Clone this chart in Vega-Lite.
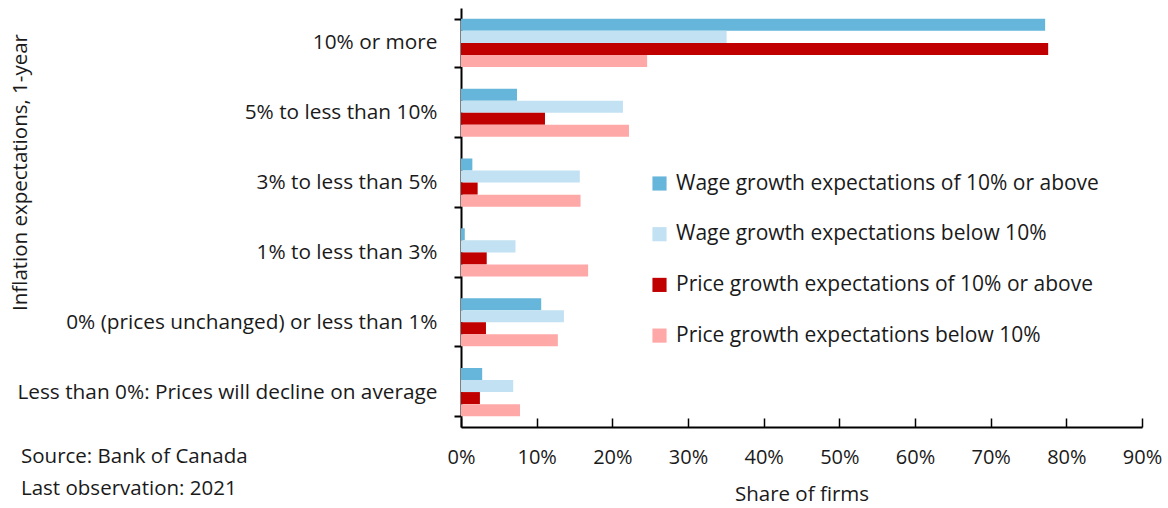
{
  "$schema": "https://vega.github.io/schema/vega-lite/v6.json",
  "width": 681,
  "height": 419,
  "autosize": {"type": "none"},
  "padding": {"left": 461, "top": 8, "right": 26, "bottom": 81},
  "background": "white",
  "config": {
    "font": "Open Sans",
    "view": {"stroke": null},
    "axis": {"labelFont": "Open Sans", "titleFont": "Open Sans", "labelColor": "#1a1a1a", "titleColor": "#1a1a1a", "titleFontWeight": "normal"}
  },
  "title": {
    "text": ["Source: Bank of Canada", "Last observation: 2021"],
    "orient": "bottom",
    "anchor": "start",
    "frame": "bounds",
    "font": "Open Sans",
    "fontSize": 20.5,
    "fontWeight": "normal",
    "color": "#1a1a1a",
    "lineHeight": 32,
    "dx": 11,
    "dy": -62
  },
  "data": {
    "values": [
      {"cat": "10% or more", "series": "Wage growth expectations of 10% or above", "v": 77.2},
      {"cat": "10% or more", "series": "Wage growth expectations below 10%", "v": 35.1},
      {"cat": "10% or more", "series": "Price growth expectations of 10% or above", "v": 77.6},
      {"cat": "10% or more", "series": "Price growth expectations below 10%", "v": 24.6},
      {"cat": "5% to less than 10%", "series": "Wage growth expectations of 10% or above", "v": 7.4},
      {"cat": "5% to less than 10%", "series": "Wage growth expectations below 10%", "v": 21.4},
      {"cat": "5% to less than 10%", "series": "Price growth expectations of 10% or above", "v": 11.1},
      {"cat": "5% to less than 10%", "series": "Price growth expectations below 10%", "v": 22.2},
      {"cat": "3% to less than 5%", "series": "Wage growth expectations of 10% or above", "v": 1.5},
      {"cat": "3% to less than 5%", "series": "Wage growth expectations below 10%", "v": 15.7},
      {"cat": "3% to less than 5%", "series": "Price growth expectations of 10% or above", "v": 2.2},
      {"cat": "3% to less than 5%", "series": "Price growth expectations below 10%", "v": 15.8},
      {"cat": "1% to less than 3%", "series": "Wage growth expectations of 10% or above", "v": 0.5},
      {"cat": "1% to less than 3%", "series": "Wage growth expectations below 10%", "v": 7.2},
      {"cat": "1% to less than 3%", "series": "Price growth expectations of 10% or above", "v": 3.4},
      {"cat": "1% to less than 3%", "series": "Price growth expectations below 10%", "v": 16.8},
      {"cat": "0% (prices unchanged) or less than 1%", "series": "Wage growth expectations of 10% or above", "v": 10.6},
      {"cat": "0% (prices unchanged) or less than 1%", "series": "Wage growth expectations below 10%", "v": 13.6},
      {"cat": "0% (prices unchanged) or less than 1%", "series": "Price growth expectations of 10% or above", "v": 3.3},
      {"cat": "0% (prices unchanged) or less than 1%", "series": "Price growth expectations below 10%", "v": 12.8},
      {"cat": "Less than 0%: Prices will decline on average", "series": "Wage growth expectations of 10% or above", "v": 2.8},
      {"cat": "Less than 0%: Prices will decline on average", "series": "Wage growth expectations below 10%", "v": 6.9},
      {"cat": "Less than 0%: Prices will decline on average", "series": "Price growth expectations of 10% or above", "v": 2.5},
      {"cat": "Less than 0%: Prices will decline on average", "series": "Price growth expectations below 10%", "v": 7.8}
    ]
  },
  "mark": {"type": "bar"},
  "encoding": {
    "y": {
      "field": "cat",
      "type": "nominal",
      "sort": ["10% or more", "5% to less than 10%", "3% to less than 5%", "1% to less than 3%", "0% (prices unchanged) or less than 1%", "Less than 0%: Prices will decline on average"],
      "scale": {"paddingInner": 0.31, "paddingOuter": 0.155},
      "axis": {
        "title": "Inflation expectations, 1-year",
        "titleFontSize": 20.5,
        "titleX": -431,
        "titleY": 164,
        "labelFontSize": 20.8,
        "labelPadding": 17,
        "labelLimit": 600,
        "tickBand": "extent",
        "tickSize": 7,
        "tickWidth": 2,
        "tickColor": "black",
        "domainColor": "black",
        "domainWidth": 2,
        "grid": false
      }
    },
    "yOffset": {
      "field": "series",
      "type": "nominal",
      "sort": ["Wage growth expectations of 10% or above", "Wage growth expectations below 10%", "Price growth expectations of 10% or above", "Price growth expectations below 10%"],
      "scale": {"paddingInner": 0, "paddingOuter": 0}
    },
    "x": {
      "field": "v",
      "type": "quantitative",
      "scale": {"domain": [0, 90], "nice": false},
      "axis": {
        "title": "Share of firms",
        "titleFontSize": 20.5,
        "titlePadding": 17,
        "labelFontSize": 20,
        "labelPadding": 29,
        "labelFlush": false,
        "labelOverlap": false,
        "values": [0, 10, 20, 30, 40, 50, 60, 70, 80, 90],
        "labelExpr": "datum.value + '%'",
        "tickSize": -9,
        "tickWidth": 1.5,
        "tickColor": "black",
        "domainColor": "black",
        "domainWidth": 2,
        "grid": false
      }
    },
    "color": {
      "field": "series",
      "type": "nominal",
      "sort": ["Wage growth expectations of 10% or above", "Wage growth expectations below 10%", "Price growth expectations of 10% or above", "Price growth expectations below 10%"],
      "scale": {
        "domain": ["Wage growth expectations of 10% or above", "Wage growth expectations below 10%", "Price growth expectations of 10% or above", "Price growth expectations below 10%"],
        "range": ["#66B6DB", "#C2E1F2", "#C00000", "#FFA8A8"]
      },
      "legend": {
        "title": null,
        "orient": "none",
        "legendX": 188,
        "legendY": 165,
        "symbolType": "square",
        "symbolSize": 200,
        "symbolStrokeWidth": 0,
        "symbolOpacity": 1,
        "labelFontSize": 21,
        "labelFont": "Open Sans",
        "labelColor": "#1a1a1a",
        "labelLimit": 600,
        "rowPadding": 28.7,
        "labelOffset": 6
      }
    }
  }
}
